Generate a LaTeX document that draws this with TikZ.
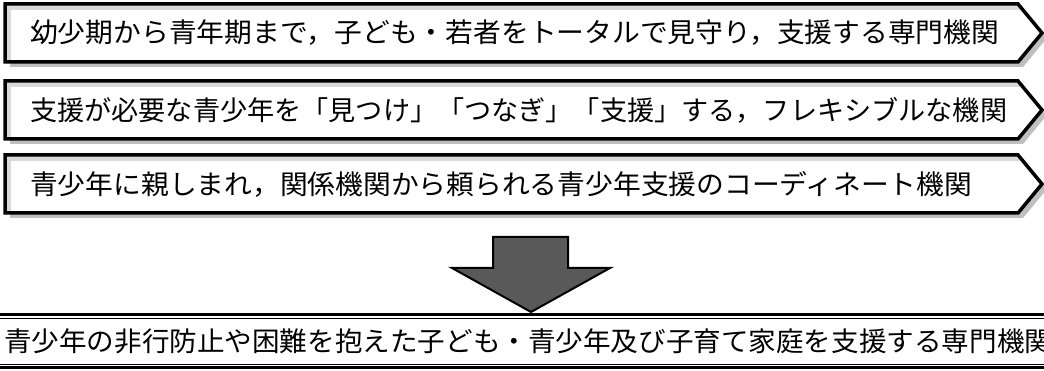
\documentclass[tikz,border=0pt]{standalone}
\usepackage{fontspec}
\newfontfamily\jpfont{Noto Sans CJK JP}

\begin{document}
\begin{tikzpicture}[x=1pt, y=-1pt,
    jptext/.style={font=\jpfont\fontsize{27pt}{30pt}\selectfont, inner sep=0pt},
    boxedge/.style={line width=3.5pt, line join=miter}]
  \useasboundingbox (0,0) rectangle (1044,371);
  % three pointer boxes
  \foreach \i/\c/\w/\txt in {1/33/969/{幼少期から青年期まで，子ども・若者をトータルで見守り，支援する専門機関},
      2/110/977/{支援が必要な青少年を「見つけ」「つなぎ」「支援」する，フレキシブルな機関},
      3/184/942/{青少年に親しまれ，関係機関から頼られる青少年支援のコーディネート機関}} {
    \fill[gray!50] (10,\c-24) -- (1023,\c-24) -- (1047,\c+5) -- (1023,\c+34) -- (10,\c+34) -- cycle;
    \fill[white] (5,\c-29) -- (1018,\c-29) -- (1042,\c) -- (1018,\c+29) -- (5,\c+29) -- cycle;
    \begin{scope}
      \clip (5,\c-29) -- (1018,\c-29) -- (1042,\c) -- (1018,\c+29) -- (5,\c+29) -- cycle;
      \fill[gray!30] (5,\c-29) rectangle (1044,\c-23);
      \fill[gray!30] (5,\c-29) rectangle (11,\c+29);
    \end{scope}
    \draw[boxedge] (5,\c-29) -- (1018,\c-29) -- (1042,\c) -- (1018,\c+29) -- (5,\c+29) -- cycle;
    \node[jptext, anchor=west] (aim\i) at (30,\c) {\resizebox{\w pt}{\height}{\txt}};
  }
  % block arrow
  \draw[fill=black!65, line width=2pt, line join=miter]
    (493,237) -- (568,237) -- (568,268) -- (610,268) -- (531,312)
    -- (452,268) -- (493,268) -- cycle;
  % result
  \draw[line width=3pt] (0,314.5) -- (1044,314.5);
  \draw[line width=1pt] (0,319) -- (1044,319);
  \draw[line width=1pt] (0,364) -- (1044,364);
  \draw[line width=3pt] (0,367.5) -- (1044,367.5);
  \node[jptext, anchor=west] (goal) at (4,341)
    {\resizebox{1048pt}{\height}{青少年の非行防止や困難を抱えた子ども・青少年及び子育て家庭を支援する専門機関}};
\end{tikzpicture}
\end{document}
